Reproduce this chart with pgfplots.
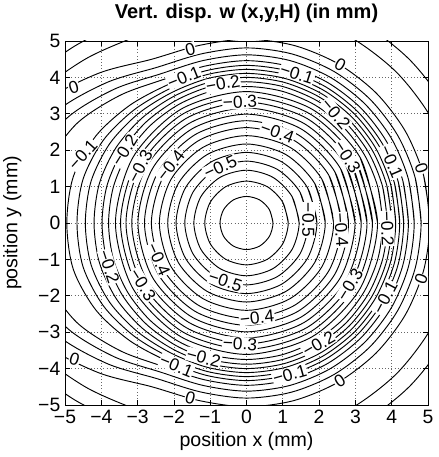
\documentclass[border=0pt]{standalone}
\usepackage{pgfplots}
\pgfplotsset{compat=1.18}
\usepackage{fontspec}
\setmainfont{Liberation Sans}
\tikzset{lbl/.style={fill=white, inner sep=0.5pt, font=\fontsize{13}{15}\selectfont}}
\pgfplotsset{cl/.style={black, line width=0.7pt, smooth, mark=none, data cs=polar}}
\begin{document}
\begin{tikzpicture}
\begin{axis}[
  scale only axis, width=272.25pt, height=273pt,
  xmin=-5, xmax=5, ymin=-5, ymax=5,
  xtick={-5,-4,-3,-2,-1,0,1,2,3,4,5},
  ytick={-5,-4,-3,-2,-1,0,1,2,3,4,5},
  xticklabels={−5,−4,−3,−2,−1,0,1,2,3,4,5},
  yticklabels={−5,−4,−3,−2,−1,0,1,2,3,4,5},
  tick label style={font=\fontsize{14.5}{17}\selectfont},
  grid=major, grid style={dotted, black!60, line width=0.5pt},
  tick align=inside, major tick length=4pt,
  axis line style={line width=0.6pt},
  every tick/.style={black, line width=0.5pt},
  xlabel={position x (mm)}, ylabel={position y (mm)},
  label style={font=\fontsize{14.7}{17}\selectfont},
  xlabel style={at={(axis description cs:0.5,-0.099)}, anchor=center},
  ylabel style={at={(axis description cs:-0.145,0.5)}, anchor=center},
  title={Vert. disp. w (x,y,H) (in mm)},
  title style={font=\bfseries\fontsize{15}{17}\selectfont, at={(axis description cs:0.5,1.077)}, anchor=center, yshift=-6pt},
]
% circular contours, levels -0.575 ... -0.25 (step 0.025); (angle, radius)
\addplot[cl] coordinates {(0,0.73)(30,0.73)(60,0.73)(90,0.73)(120,0.73)(150,0.73)(180,0.73)(210,0.73)(240,0.73)(270,0.73)(300,0.73)(330,0.73)(360,0.73)(390,0.73)};
\addplot[cl] coordinates {(0,1.15)(30,1.15)(60,1.15)(90,1.15)(120,1.15)(150,1.15)(180,1.15)(210,1.15)(240,1.15)(270,1.15)(300,1.15)(330,1.15)(360,1.15)(390,1.15)};
\addplot[cl] coordinates {(0,1.45)(30,1.45)(60,1.45)(90,1.45)(120,1.45)(150,1.45)(180,1.45)(210,1.45)(240,1.45)(270,1.45)(300,1.45)(330,1.45)(360,1.45)(390,1.45)};
\addplot[cl] coordinates {(0,1.70)(30,1.70)(60,1.70)(90,1.70)(120,1.70)(150,1.70)(180,1.70)(210,1.70)(240,1.70)(270,1.70)(300,1.70)(330,1.70)(360,1.70)(390,1.70)};
\addplot[cl] coordinates {(0,1.94)(30,1.94)(60,1.94)(90,1.94)(120,1.94)(150,1.94)(180,1.94)(210,1.94)(240,1.94)(270,1.94)(300,1.94)(330,1.94)(360,1.94)(390,1.94)};
\addplot[cl] coordinates {(0,2.17)(30,2.17)(60,2.17)(90,2.17)(120,2.17)(150,2.17)(180,2.17)(210,2.17)(240,2.17)(270,2.17)(300,2.17)(330,2.17)(360,2.17)(390,2.17)};
\addplot[cl] coordinates {(0,2.40)(30,2.40)(60,2.40)(90,2.40)(120,2.40)(150,2.40)(180,2.40)(210,2.40)(240,2.40)(270,2.40)(300,2.40)(330,2.40)(360,2.40)(390,2.40)};
\addplot[cl] coordinates {(0,2.62)(30,2.62)(60,2.62)(90,2.62)(120,2.62)(150,2.62)(180,2.62)(210,2.62)(240,2.62)(270,2.62)(300,2.62)(330,2.62)(360,2.62)(390,2.62)};
\addplot[cl] coordinates {(0,2.81)(30,2.81)(60,2.81)(90,2.81)(120,2.81)(150,2.81)(180,2.81)(210,2.81)(240,2.81)(270,2.81)(300,2.81)(330,2.81)(360,2.81)(390,2.81)};
\addplot[cl] coordinates {(0,2.99)(30,2.99)(60,2.99)(90,2.99)(120,2.99)(150,2.99)(180,2.99)(210,2.99)(240,2.99)(270,2.99)(300,2.99)(330,2.99)(360,2.99)(390,2.99)};
\addplot[cl] coordinates {(0,3.16)(30,3.16)(60,3.16)(90,3.16)(120,3.16)(150,3.16)(180,3.16)(210,3.16)(240,3.16)(270,3.16)(300,3.16)(330,3.16)(360,3.16)(390,3.16)};
\addplot[cl] coordinates {(0,3.32)(30,3.32)(60,3.32)(90,3.32)(120,3.32)(150,3.32)(180,3.32)(210,3.32)(240,3.32)(270,3.32)(300,3.32)(330,3.32)(360,3.32)(390,3.32)};
\addplot[cl] coordinates {(0,3.47)(30,3.47)(60,3.47)(90,3.47)(120,3.47)(150,3.47)(180,3.47)(210,3.47)(240,3.47)(270,3.47)(300,3.47)(330,3.47)(360,3.47)(390,3.47)};
\addplot[cl] coordinates {(0,3.61)(30,3.61)(60,3.61)(90,3.61)(120,3.61)(150,3.61)(180,3.61)(210,3.61)(240,3.61)(270,3.61)(300,3.61)(330,3.61)(360,3.61)(390,3.61)};
% outer contours, widened towards -x: levels -0.225 ... 0, +0.025, +0.05
\addplot[cl] coordinates {(0,3.75)(15,3.75)(30,3.75)(45,3.75)(60,3.75)(75,3.75)(90,3.75)(105,3.75)(120,3.754)(135,3.769)(150,3.787)(165,3.799)(180,3.80)(195,3.799)(210,3.787)(225,3.769)(240,3.754)(255,3.75)(270,3.75)(285,3.75)(300,3.75)(315,3.75)(330,3.75)(345,3.75)(360,3.75)(375,3.75)};
\addplot[cl] coordinates {(0,3.88)(15,3.88)(30,3.88)(45,3.88)(60,3.88)(75,3.88)(90,3.88)(105,3.88)(120,3.887)(135,3.918)(150,3.954)(165,3.978)(180,3.98)(195,3.978)(210,3.954)(225,3.918)(240,3.887)(255,3.88)(270,3.88)(285,3.88)(300,3.88)(315,3.88)(330,3.88)(345,3.88)(360,3.88)(375,3.88)};
\addplot[cl] coordinates {(0,4)(15,4)(30,4)(45,4)(60,4)(75,4)(90,4)(105,4)(120,4.015)(135,4.075)(150,4.148)(165,4.196)(180,4.20)(195,4.196)(210,4.148)(225,4.075)(240,4.015)(255,4)(270,4)(285,4)(300,4)(315,4)(330,4)(345,4)(360,4)(375,4)};
\addplot[cl] coordinates {(0,4.11)(15,4.11)(30,4.11)(45,4.11)(60,4.11)(75,4.11)(90,4.11)(105,4.11)(120,4.134)(135,4.234)(150,4.354)(165,4.433)(180,4.44)(195,4.433)(210,4.354)(225,4.234)(240,4.134)(255,4.11)(270,4.11)(285,4.11)(300,4.11)(315,4.11)(330,4.11)(345,4.11)(360,4.11)(375,4.11)};
\addplot[cl] coordinates {(0,4.22)(15,4.22)(30,4.22)(45,4.22)(60,4.22)(75,4.22)(90,4.22)(105,4.22)(120,4.253)(135,4.389)(150,4.553)(165,4.661)(180,4.67)(195,4.661)(210,4.553)(225,4.389)(240,4.253)(255,4.22)(270,4.22)(285,4.22)(300,4.22)(315,4.22)(330,4.22)(345,4.22)(360,4.22)(375,4.22)};
\addplot[cl] coordinates {(0,4.33)(15,4.33)(30,4.33)(45,4.33)(60,4.33)(75,4.33)(90,4.33)(105,4.33)(120,4.376)(135,4.563)(150,4.789)(165,4.938)(180,4.95)(195,4.938)(210,4.789)(225,4.563)(240,4.376)(255,4.33)(270,4.33)(285,4.33)(300,4.33)(315,4.33)(330,4.33)(345,4.33)(360,4.33)(375,4.33)};
\addplot[cl] coordinates {(0,4.46)(15,4.46)(30,4.46)(45,4.46)(60,4.46)(75,4.46)(90,4.46)(105,4.46)(120,4.556)(135,4.949)(150,5.423)(165,5.734)(180,5.76)(195,5.734)(210,5.423)(225,4.949)(240,4.556)(255,4.46)(270,4.46)(285,4.46)(300,4.46)(315,4.46)(330,4.46)(345,4.46)(360,4.46)(375,4.46)};
\addplot[cl] coordinates {(0,4.62)(15,4.62)(30,4.62)(45,4.62)(60,4.62)(75,4.62)(90,4.62)(105,4.62)(120,4.731)(135,5.184)(150,5.731)(165,6.09)(180,6.12)(195,6.09)(210,5.731)(225,5.184)(240,4.731)(255,4.62)(270,4.62)(285,4.62)(300,4.62)(315,4.62)(330,4.62)(345,4.62)(360,4.62)(375,4.62)};
\addplot[cl] coordinates {(0,4.81)(15,4.81)(30,4.81)(45,4.81)(60,4.81)(75,4.81)(90,4.81)(105,4.81)(120,4.937)(135,5.453)(150,6.077)(165,6.486)(180,6.52)(195,6.486)(210,6.077)(225,5.453)(240,4.937)(255,4.81)(270,4.81)(285,4.81)(300,4.81)(315,4.81)(330,4.81)(345,4.81)(360,4.81)(375,4.81)};
\addplot[cl] coordinates {(0,5.05)(15,5.05)(30,5.05)(45,5.05)(60,5.05)(75,5.05)(90,5.05)(105,5.05)(120,5.198)(135,5.802)(150,6.531)(165,7.011)(180,7.05)(195,7.011)(210,6.531)(225,5.802)(240,5.198)(255,5.05)(270,5.05)(285,5.05)(300,5.05)(315,5.05)(330,5.05)(345,5.05)(360,5.05)(375,5.05)};
\addplot[cl] coordinates {(0,5.85)(15,5.85)(30,5.85)(45,5.85)(60,5.85)(75,5.85)(90,5.85)(105,5.85)(120,5.946)(135,6.335)(150,6.806)(165,7.115)(180,7.14)(195,7.115)(210,6.806)(225,6.335)(240,5.946)(255,5.85)(270,5.85)(285,5.85)(300,5.85)(315,5.85)(330,5.85)(345,5.85)(360,5.85)(375,5.85)};
\addplot[cl] coordinates {(0,6.35)(15,6.35)(30,6.35)(45,6.35)(60,6.35)(75,6.35)(90,6.35)(105,6.35)(120,6.44)(135,6.805)(150,7.246)(165,7.536)(180,7.56)(195,7.536)(210,7.246)(225,6.805)(240,6.44)(255,6.35)(270,6.35)(285,6.35)(300,6.35)(315,6.35)(330,6.35)(345,6.35)(360,6.35)(375,6.35)};
% contour labels
\node[lbl,rotate=15] at (axis cs:-1.55,4.78) {0};
\node[lbl,rotate=17] at (axis cs:-4.76,3.72) {0};
\node[lbl,rotate=22] at (axis cs:-1.72,4.00) {−0.1};
\node[lbl,rotate=10] at (axis cs:-0.65,3.83) {−0.2};
\node[lbl,rotate=3] at (axis cs:-0.18,3.32) {−0.3};
\node[lbl,rotate=48] at (axis cs:-4.51,1.88) {−0.1};
\node[lbl,rotate=58] at (axis cs:-3.36,2.00) {−0.2};
\node[lbl,rotate=62] at (axis cs:-2.93,1.56) {−0.3};
\node[lbl,rotate=52] at (axis cs:-2.09,1.58) {−0.4};
\node[lbl,rotate=25] at (axis cs:-0.72,1.54) {−0.5};
\node[lbl,rotate=-30] at (axis cs:2.58,4.34) {0};
\node[lbl,rotate=-18] at (axis cs:1.39,4.10) {−0.1};
\node[lbl,rotate=-50] at (axis cs:2.46,3.00) {−0.2};
\node[lbl,rotate=-57] at (axis cs:2.78,1.82) {−0.3};
\node[lbl,rotate=-67] at (axis cs:3.99,1.69) {−0.1};
\node[lbl,rotate=-72] at (axis cs:4.82,1.50) {0};
\node[lbl,rotate=-20] at (axis cs:0.85,2.48) {−0.4};
\node[lbl,rotate=-90] at (axis cs:1.70,0.08) {−0.5};
\node[lbl,rotate=-86] at (axis cs:2.61,-0.19) {−0.4};
\node[lbl,rotate=-88] at (axis cs:3.88,-0.15) {−0.2};
\node[lbl,rotate=58] at (axis cs:2.85,-1.70) {−0.3};
\node[lbl,rotate=62] at (axis cs:3.82,-2.05) {−0.1};
\node[lbl,rotate=70] at (axis cs:4.81,-1.55) {0};
\node[lbl,rotate=6] at (axis cs:0.29,-2.60) {−0.4};
\node[lbl,rotate=-3] at (axis cs:-0.18,-3.32) {−0.3};
\node[lbl,rotate=30] at (axis cs:1.99,-3.33) {−0.2};
\node[lbl,rotate=16] at (axis cs:1.19,-4.16) {−0.1};
\node[lbl,rotate=32] at (axis cs:2.57,-4.35) {0};
\node[lbl,rotate=-72] at (axis cs:-3.79,-1.20) {−0.2};
\node[lbl,rotate=-66] at (axis cs:-2.42,-1.00) {−0.4};
\node[lbl,rotate=-58] at (axis cs:-2.86,-1.69) {−0.3};
\node[lbl,rotate=-18] at (axis cs:-0.58,-1.60) {−0.5};
\node[lbl,rotate=-22] at (axis cs:-1.93,-3.92) {−0.1};
\node[lbl,rotate=-15] at (axis cs:-1.18,-3.70) {−0.2};
\node[lbl,rotate=-17] at (axis cs:-4.74,-3.74) {0};
\node[lbl,rotate=-15] at (axis cs:-1.55,-4.80) {0};
\end{axis}
\pgfresetboundingbox
\path[use as bounding box] ([shift={(-48.75pt,-39pt)}]current axis.south west) rectangle ([shift={(7.5pt,30.75pt)}]current axis.north east);
\end{tikzpicture}
\end{document}
